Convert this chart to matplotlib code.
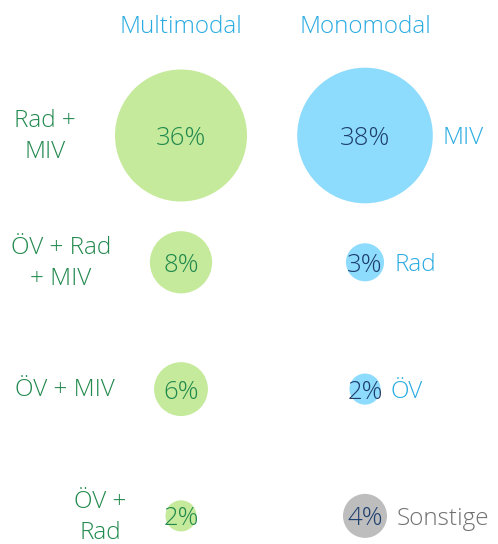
import matplotlib.pyplot as plt

# values (percent of trips)
multi_labels = ['Rad +\nMIV', 'ÖV + Rad\n+ MIV', 'ÖV + MIV', 'ÖV +\nRad']
multi_values = [36, 8, 6, 2]
mono_labels = ['MIV', 'Rad', 'ÖV', 'Sonstige']
mono_values = [38, 3, 2, 4]
mono_colors = ['#8edcfd', '#8edcfd', '#8edcfd', '#bdbdbd']
mono_label_colors = ['#29abe2', '#29abe2', '#29abe2', '#707070']
headings = ['Multimodal', 'Monomodal']

GREEN = '#c6ea9b'
GREEN_TXT = '#21894d'
NAVY = '#1d3f6e'
HEAD = '#29abe2'

plt.rcParams['font.family'] = ['Open Sans', 'DejaVu Sans']
FS_NUM = 18.5
FS = 17.5
K = 11.0  # radius in px per sqrt(percent)
PX = 0.72  # points per pixel at dpi 100

fig = plt.figure(figsize=(4.98, 5.44), dpi=100)
ax = fig.add_axes([0, 0, 1, 1])
ax.set_axis_off()

# column spacing 184 px, row spacing 126.8 px
x0 = -181 / 184
ax.set_xlim(x0, x0 + 498 / 184)
y0 = -135.5 / 126.8
ax.set_ylim(y0 + 544 / 126.8, y0)


def radius(v):
    return K * v ** 0.5


rows = range(len(multi_values))
ax.scatter([0] * len(multi_values), list(rows),
           s=[(2 * radius(v) * PX) ** 2 for v in multi_values],
           color=GREEN, linewidths=0, zorder=1)
ax.scatter([1] * len(mono_values), list(rows),
           s=[(2 * radius(v) * PX) ** 2 for v in mono_values],
           color=mono_colors, linewidths=0, zorder=1)

for i, (lab, v) in enumerate(zip(multi_labels, multi_values)):
    ax.text(0, i, f'{v}%', ha='center', va='center_baseline', fontsize=FS_NUM,
            color=GREEN_TXT, fontweight='light', zorder=2)
    ax.annotate(lab, (0, i), xytext=(-(radius(v) + 39) * PX, -1),
                textcoords='offset points', ha='right', va='center',
                multialignment='center', fontsize=FS, color=GREEN_TXT,
                fontweight='light', linespacing=1.4)

for i, (lab, v) in enumerate(zip(mono_labels, mono_values)):
    ax.text(1, i, f'{v}%', ha='center', va='center_baseline', fontsize=FS_NUM,
            color=NAVY, fontweight='light', zorder=2)
    ax.annotate(lab, (1, i), xytext=((radius(v) + 10) * PX, 0),
                textcoords='offset points', ha='left', va='center_baseline',
                fontsize=FS, color=mono_label_colors[i], fontweight='light')

for j, h in enumerate(headings):
    ax.annotate(h, (j, 0), xytext=(0, 111.5 * PX), textcoords='offset points',
                ha='center', va='center_baseline', fontsize=FS, color=HEAD,
                fontweight='light')

fig.savefig('out.png', dpi=100)
